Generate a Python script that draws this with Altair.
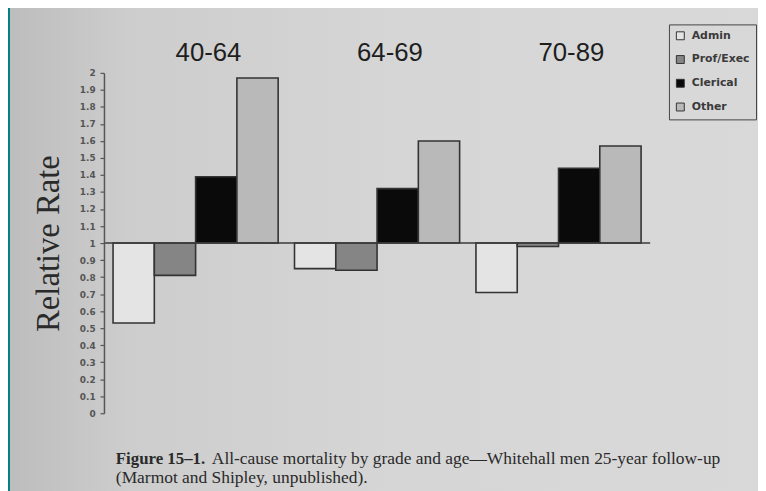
import altair as alt
import pandas as pd

groups = ["40-64", "64-69", "70-89"]
grades = ["Admin", "Prof/Exec", "Clerical", "Other"]
rate_40_64 = [0.53, 0.81, 1.39, 1.97]
rate_64_69 = [0.85, 0.84, 1.32, 1.60]
rate_70_89 = [0.71, 0.98, 1.44, 1.57]
tick_values = [0, 0.1, 0.2, 0.3, 0.4, 0.5, 0.6, 0.7, 0.8, 0.9, 1,
               1.1, 1.2, 1.3, 1.4, 1.5, 1.6, 1.7, 1.8, 1.9, 2]
fills = ["#e4e4e4", "#858585", "#0a0a0a", "#b9b9b9"]
caption_bold = "Figure 15\u20131."
caption_rest = "All-cause mortality by grade and age\u2014Whitehall men 25-year follow-up"
caption_line2 = "(Marmot and Shipley, unpublished)."

rows = []
for g, vals in zip(groups, [rate_40_64, rate_64_69, rate_70_89]):
    for gr, v in zip(grades, vals):
        rows.append({"group": g, "grade": gr, "rate": v})
df = pd.DataFrame(rows)
gdf = pd.DataFrame({"group": groups})
one = pd.DataFrame({"k": [0]})

x_enc = alt.X("group:N", sort=groups,
              scale=alt.Scale(paddingInner=0.09, paddingOuter=0.05), axis=None)

y_scale = alt.Scale(domain=[0, 2], nice=False, zero=True)
y_axis = alt.Axis(values=tick_values, format="~g", title="Relative Rate",
                  grid=False, zindex=1, tickSize=4, tickWidth=1.2,
                  labelOverlap=False,
                  tickColor="#555555", domainColor="#555555", domainWidth=1.5,
                  labelFont="DejaVu Sans", labelFontSize=9, labelFontWeight="bold",
                  labelColor="#555555", labelPadding=5,
                  titleFont="Liberation Serif", titleFontSize=33,
                  titleFontWeight="normal", titleColor="#2a2a2a",
                  titleX=-46, titleY=172, titleAngle=270,
                  titleBaseline="alphabetic", titleAlign="center")

bg = alt.Chart(one).mark_rect(
    color=alt.LinearGradient(
        gradient="linear", x1=0, x2=1, y1=0, y2=0,
        stops=[alt.GradientStop(color="#bdbdbd", offset=0),
               alt.GradientStop(color="#cdcdcd", offset=0.15),
               alt.GradientStop(color="#d6d6d6", offset=0.5),
               alt.GradientStop(color="#d9d9d9", offset=1)])
).encode(x=alt.value(-95), x2=alt.value(700), y=alt.value(-80), y2=alt.value(460))

bars = alt.Chart(df).mark_bar(stroke="#333333", strokeWidth=1.6).encode(
    x=x_enc,
    xOffset=alt.XOffset("grade:N", sort=grades,
                        scale=alt.Scale(paddingInner=0, paddingOuter=0)),
    y=alt.Y("rate:Q", scale=y_scale, axis=y_axis),
    y2=alt.datum(1),
    color=alt.Color("grade:N", sort=grades,
                    scale=alt.Scale(domain=grades, range=fills),
                    legend=alt.Legend(title=None, orient="none", legendX=571, legendY=-49,
                                      direction="vertical", padding=6,
                                      strokeColor="#444444", fillColor="#d8d8d8",
                                      symbolType="square", symbolSize=64,
                                      symbolStrokeColor="#333333", symbolStrokeWidth=1,
                                      labelFont="DejaVu Sans", labelFontSize=11,
                                      labelFontWeight="bold", labelColor="#3a3a3a",
                                      rowPadding=11, labelOffset=6)),
)

rule = alt.Chart(one).mark_rule(color="#3a3a3a", strokeWidth=1.5).encode(
    y=alt.YDatum(1, scale=y_scale, axis=y_axis))

labels = alt.Chart(gdf).mark_text(
    font="Liberation Sans", fontSize=26, color="#1e1e1e", dx=13, baseline="alphabetic"
).encode(x=x_enc, y=alt.value(-12), text="group:N")

cap1 = alt.Chart(one).mark_text(
    font="Liberation Serif", fontSize=17, fontWeight="bold", color="#2a2a2a",
    align="left", baseline="alphabetic"
).encode(x=alt.value(12), y=alt.value(395), text=alt.value(caption_bold))

cap2 = alt.Chart(one).mark_text(
    font="Liberation Serif", fontSize=17.6, color="#2a2a2a",
    align="left", baseline="alphabetic"
).encode(x=alt.value(109), y=alt.value(395), text=alt.value(caption_rest))

cap3 = alt.Chart(one).mark_text(
    font="Liberation Serif", fontSize=17.6, color="#2a2a2a",
    align="left", baseline="alphabetic"
).encode(x=alt.value(12), y=alt.value(414), text=alt.value(caption_line2))

chart = alt.layer(bg, bars, rule, labels, cap1, cap2, cap3).properties(
    width=552, height=344,
    padding={"left": 97, "top": 63, "right": 109, "bottom": 76},
    autosize=alt.AutoSizeParams(type="none"),
    background="#008080",
).configure_view(stroke=None)

chart.save("out.html", embed_options={"renderer": "svg", "actions": False})
